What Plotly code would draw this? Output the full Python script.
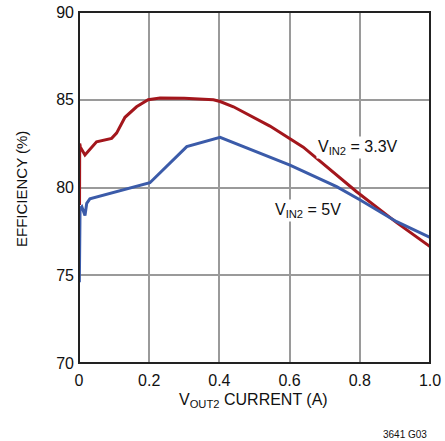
import plotly.graph_objects as go

# Efficiency vs VOUT2 current
x_33 = [0.0015, 0.002, 0.004, 0.017, 0.05, 0.093, 0.107, 0.131, 0.164, 0.197, 0.231,
        0.30, 0.383, 0.402, 0.44, 0.544, 0.639, 0.791, 0.905, 1.0]
eff_33 = [79.0, 82.5, 82.3, 81.85, 82.6, 82.8, 83.1, 84.0, 84.6, 85.0, 85.1,
          85.08, 85.0, 84.9, 84.6, 83.5, 82.3, 79.76, 78.0, 76.63]

x_5 = [0.001, 0.003, 0.008, 0.017, 0.022, 0.031, 0.202, 0.307, 0.402, 0.601,
       0.734, 0.80, 0.905, 1.0]
eff_5 = [74.6, 78.8, 78.9, 78.4, 79.1, 79.35, 80.27, 82.33, 82.86, 81.28,
         80.05, 79.3, 78.05, 77.16]

x_ticks = [0, 0.2, 0.4, 0.6, 0.8, 1.0]
x_tick_labels = ["0", "0.2", "0.4", "0.6", "0.8", "1.0"]
y_ticks = [70, 75, 80, 85, 90]

FONT = "Liberation Sans, Arial, sans-serif"
RED = "#A3161C"
BLUE = "#3B5BA9"

fig = go.Figure()
fig.add_trace(go.Scatter(x=x_33, y=eff_33, mode="lines",
                         line=dict(color=RED, width=3), showlegend=False))
fig.add_trace(go.Scatter(x=x_5, y=eff_5, mode="lines",
                         line=dict(color=BLUE, width=3), showlegend=False))

fig.update_layout(
    width=445, height=441,
    margin=dict(l=79, r=15, t=12, b=78, autoexpand=False),
    paper_bgcolor="white", plot_bgcolor="white",
    font=dict(family=FONT, size=16, color="#111"),
    xaxis=dict(range=[0, 1.0], tickvals=x_ticks, ticktext=x_tick_labels,
               showgrid=True, gridcolor="#9a9a9a", gridwidth=1.5,
               showline=False, ticks="", zeroline=False,
               tickfont=dict(size=16), automargin=False,
               ticklabeloverflow="allow", ticklabelstandoff=6),
    yaxis=dict(range=[70, 90], tickvals=y_ticks,
               showgrid=True, gridcolor="#9a9a9a", gridwidth=1.5,
               showline=False, ticks="", zeroline=False,
               tickfont=dict(size=16), automargin=False,
               ticklabeloverflow="allow", ticklabelstandoff=4),
)

fig.add_shape(type="rect", xref="paper", yref="paper", x0=0, x1=1, y0=0, y1=1,
              line=dict(color="#222", width=2), layer="above")

fig.add_annotation(x=0.795, y=82.26, xref="x", yref="y",
                   text="V<sub>IN2</sub> = 3.3V", showarrow=False,
                   bgcolor="white", font=dict(size=16))
fig.add_annotation(x=0.652, y=78.7, xref="x", yref="y",
                   text="V<sub>IN2</sub> = 5V", showarrow=False,
                   bgcolor="white", font=dict(size=16))
fig.add_annotation(x=0.497, y=-0.108, xref="paper", yref="paper",
                   xanchor="center", yanchor="middle",
                   text="V<sub>OUT2</sub> CURRENT (A)", showarrow=False,
                   font=dict(size=16))
fig.add_annotation(x=-0.162, y=0.496, xref="paper", yref="paper",
                   xanchor="center", yanchor="middle",
                   text="EFFICIENCY (%)", showarrow=False, textangle=-90,
                   font=dict(size=15))
fig.add_annotation(x=0.929, y=-0.205, xref="paper", yref="paper",
                   xanchor="center", yanchor="middle",
                   text="3641 G03", showarrow=False,
                   font=dict(size=10))

# remove the default 8px page margin so the figure sits at the window corner
fig.write_html("out.html",
               config={"displayModeBar": False},
               post_script="document.body.style.margin='0px';")
